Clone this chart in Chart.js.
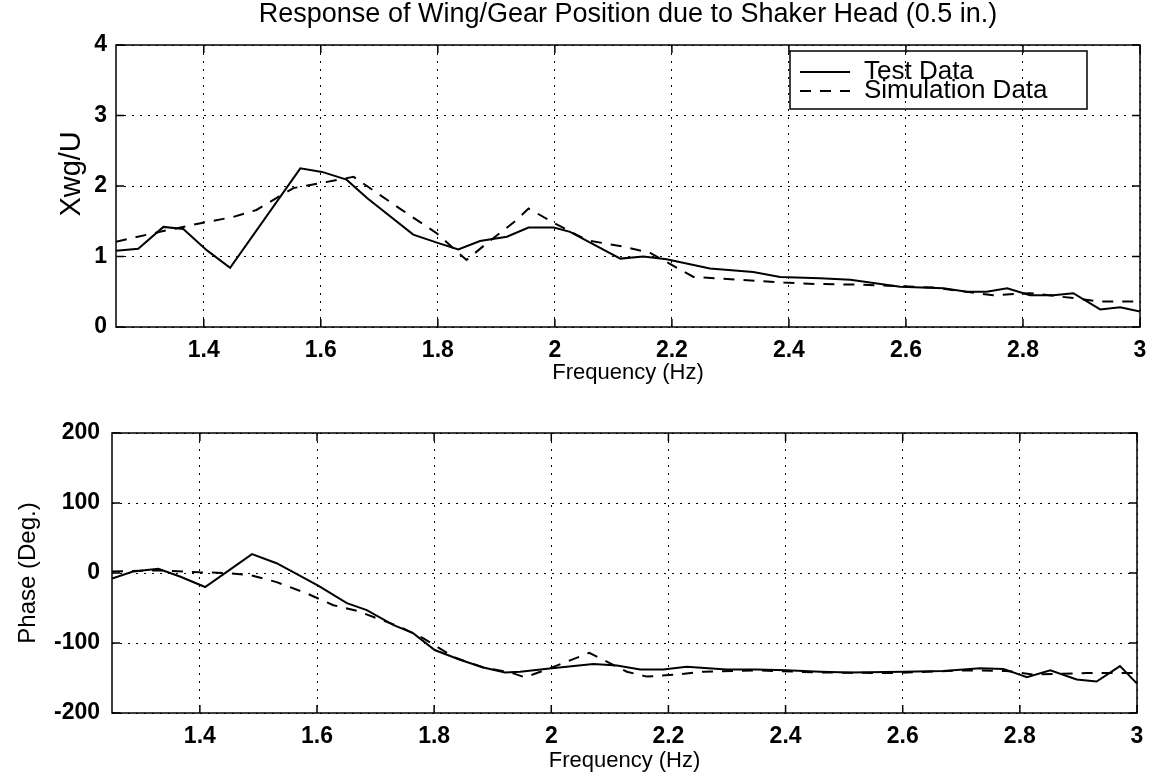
<!DOCTYPE html>
<html>
<head>
<meta charset="utf-8">
<script src="https://cdn.jsdelivr.net/npm/chart.js@4.4.0/dist/chart.umd.min.js"></script>
<style>
  body { margin: 0; background: #fff; }
  #wrap { position: relative; width: 1153px; height: 776px; }
  #magChart { position: absolute; left: 0; top: 0; }
  #phaseChart { position: absolute; left: 0; top: 390px; }
</style>
</head>
<body>
<div id="wrap">
  <canvas id="magChart" width="1153" height="390"></canvas>
  <canvas id="phaseChart" width="1153" height="386"></canvas>
</div>
<script>
// x ticks shared by both plots
var freqTicks = [1.4, 1.6, 1.8, 2.0, 2.2, 2.4, 2.6, 2.8, 3.0];
var magTicks = [0, 1, 2, 3, 4];
var phaseTicks = [-200, -100, 0, 100, 200];

// magnitude plot - test data
var testFreqMag = [1.25, 1.288, 1.331, 1.365, 1.405, 1.445, 1.565, 1.602, 1.644, 1.679, 1.758, 1.801, 1.835, 1.872, 1.918, 1.955, 1.998, 2.026, 2.112, 2.151, 2.191, 2.265, 2.339, 2.385, 2.453, 2.505, 2.590, 2.664, 2.704, 2.738, 2.773, 2.812, 2.852, 2.886, 2.932, 2.966, 3.0];
var testMag = [1.08, 1.11, 1.42, 1.39, 1.09, 0.84, 2.25, 2.20, 2.09, 1.83, 1.31, 1.19, 1.10, 1.22, 1.28, 1.41, 1.41, 1.35, 0.97, 1.00, 0.96, 0.83, 0.78, 0.71, 0.69, 0.67, 0.57, 0.55, 0.50, 0.50, 0.55, 0.45, 0.45, 0.48, 0.25, 0.28, 0.22];

// magnitude plot - simulation data
var simFreqMag = [1.25, 1.325, 1.399, 1.45, 1.49, 1.553, 1.599, 1.656, 1.735, 1.798, 1.849, 1.884, 1.935, 1.955, 2.0, 2.055, 2.117, 2.163, 2.237, 2.317, 2.391, 2.448, 2.522, 2.647, 2.749, 2.812, 2.886, 2.932, 3.0];
var simMag = [1.21, 1.35, 1.48, 1.56, 1.66, 1.97, 2.04, 2.13, 1.68, 1.33, 0.95, 1.19, 1.52, 1.68, 1.47, 1.23, 1.14, 1.05, 0.71, 0.67, 0.63, 0.61, 0.60, 0.56, 0.45, 0.48, 0.41, 0.36, 0.36];

// phase plot - test data
var testFreqPhase = [1.25, 1.286, 1.329, 1.366, 1.409, 1.489, 1.531, 1.602, 1.651, 1.685, 1.730, 1.764, 1.801, 1.844, 1.884, 1.921, 1.947, 2.001, 2.072, 2.112, 2.152, 2.191, 2.231, 2.299, 2.35, 2.402, 2.459, 2.51, 2.601, 2.669, 2.732, 2.772, 2.812, 2.852, 2.897, 2.931, 2.971, 3.0];
var testPhase = [-8, 2, 6, -5, -20, 27, 14, -18, -43, -53, -74, -86, -110, -124, -135, -142, -141, -136, -130, -132, -138, -138, -134, -138, -138, -139, -141, -142, -141, -140, -136, -137, -149, -139, -152, -155, -133, -158];

// phase plot - simulation data
var simFreqPhase = [1.25, 1.329, 1.40, 1.446, 1.486, 1.531, 1.582, 1.628, 1.668, 1.742, 1.781, 1.833, 1.884, 1.93, 1.955, 1.998, 2.065, 2.129, 2.163, 2.214, 2.26, 2.35, 2.453, 2.584, 2.709, 2.777, 2.823, 2.914, 3.0];
var simPhase = [2, 4, 1, 0, -3, -13, -29, -46, -54, -77, -93, -120, -135, -142, -149, -136, -114, -141, -148, -145, -141, -139, -142, -143, -139, -140, -145, -143, -143];

var FONT = '"Liberation Sans", Arial, Helvetica, sans-serif';
Chart.defaults.font.family = FONT;
Chart.defaults.color = '#000';

function toPoints(xs, ys) {
    return xs.map(function (x, i) { return { x: x, y: ys[i] }; });
}

// box round the plot area plus inward ticks on all four sides
var framePlugin = {
    id: 'frame',
    afterDatasetsDraw: function (chart) {
        var ctx = chart.ctx, a = chart.chartArea;
        var xs = chart.scales.x, ys = chart.scales.y;
        var len = 8;
        ctx.save();
        ctx.strokeStyle = '#000';
        ctx.lineWidth = 1.5;
        ctx.strokeRect(a.left, a.top, a.right - a.left, a.bottom - a.top);
        ctx.beginPath();
        xs.ticks.forEach(function (t) {
            var px = xs.getPixelForValue(t.value);
            ctx.moveTo(px, a.bottom); ctx.lineTo(px, a.bottom - len);
            ctx.moveTo(px, a.top); ctx.lineTo(px, a.top + len);
        });
        ys.ticks.forEach(function (t) {
            var py = ys.getPixelForValue(t.value);
            ctx.moveTo(a.left, py); ctx.lineTo(a.left + len, py);
            ctx.moveTo(a.right, py); ctx.lineTo(a.right - len, py);
        });
        ctx.stroke();
        ctx.restore();
    }
};

// title centred over the axes, like matlab does
var axesTitlePlugin = {
    id: 'axesTitle',
    afterDraw: function (chart, args, opts) {
        if (!opts.text) return;
        var ctx = chart.ctx, a = chart.chartArea;
        ctx.save();
        ctx.font = '27px ' + FONT;
        ctx.fillStyle = '#000';
        ctx.textAlign = 'center';
        ctx.textBaseline = 'middle';
        ctx.fillText(opts.text, (a.left + a.right) / 2, 15);
        ctx.restore();
    }
};

// MATLAB style legend box in the upper right corner
var boxLegendPlugin = {
    id: 'boxLegend',
    afterDatasetsDraw: function (chart, args, opts) {
        if (!opts.show) return;
        var ctx = chart.ctx, a = chart.chartArea;
        var x0 = 790, y0 = a.top + 6, w = 297, h = 58;
        ctx.save();
        ctx.strokeStyle = '#000';
        ctx.lineWidth = 1.5;
        ctx.strokeRect(x0, y0, w, h);
        ctx.font = '26px ' + FONT;
        ctx.fillStyle = '#000';
        ctx.textBaseline = 'middle';
        chart.data.datasets.forEach(function (ds, i) {
            var y = y0 + 21 + i * 19;
            ctx.beginPath();
            ctx.lineWidth = ds.borderWidth;
            ctx.setLineDash(ds.borderDash || []);
            ctx.moveTo(x0 + 10, y);
            ctx.lineTo(x0 + 60, y);
            ctx.stroke();
            ctx.setLineDash([]);
            ctx.fillText(ds.label, x0 + 74, y);
        });
        ctx.restore();
    }
};

function makeChart(id, cfg) {
    var ctx = document.getElementById(id).getContext('2d');
    return new Chart(ctx, {
        type: 'line',
        data: {
            datasets: [{
                label: 'Test Data',
                data: cfg.test,
                borderColor: '#000',
                borderWidth: 2,
                pointRadius: 0,
                tension: 0
            }, {
                label: 'Simulation Data',
                data: cfg.sim,
                borderColor: '#000',
                borderWidth: 2,
                borderDash: [11, 9],
                pointRadius: 0,
                tension: 0
            }]
        },
        options: {
            responsive: false,
            animation: false,
            events: [],
            layout: { padding: cfg.padding },
            plugins: {
                legend: { display: false },
                tooltip: { enabled: false },
                title: { display: false },
                axesTitle: { text: cfg.title },
                boxLegend: { show: cfg.legend }
            },
            scales: {
                x: {
                    type: 'linear',
                    min: 1.25,
                    max: 3,
                    afterBuildTicks: function (s) { s.ticks = freqTicks.map(function (v) { return { value: v }; }); },
                    afterFit: function (s) { s.height = 63; s.paddingLeft = 0; s.paddingRight = 0; },
                    ticks: {
                        padding: 10,
                        maxRotation: 0,
                        font: { size: 23, weight: 'bold' },
                        callback: function (v) { return String(Math.round(v * 10) / 10); }
                    },
                    grid: { color: '#000', lineWidth: 1, drawTicks: false },
                    border: { display: false, dash: [2, 6] },
                    title: {
                        display: true,
                        text: 'Frequency (Hz)',
                        font: { size: 22 },
                        padding: { top: 0, bottom: cfg.xTitlePad }
                    }
                },
                y: {
                    min: cfg.yMin,
                    max: cfg.yMax,
                    afterBuildTicks: function (s) { s.ticks = cfg.yTicks.map(function (v) { return { value: v }; }); },
                    afterFit: function (s) { s.width = cfg.yWidth; },
                    ticks: {
                        padding: cfg.yTickPad,
                        font: { size: 23, weight: 'bold' }
                    },
                    grid: { color: '#000', lineWidth: 1, drawTicks: false },
                    border: { display: false, dash: [2, 6] },
                    title: {
                        display: true,
                        text: cfg.yTitle,
                        font: { size: cfg.yTitleSize },
                        padding: { top: cfg.yTitlePad, bottom: 0 }
                    }
                }
            }
        },
        plugins: [framePlugin, boxLegendPlugin, axesTitlePlugin]
    });
}

makeChart('magChart', {
    test: toPoints(testFreqMag, testMag),
    sim: toPoints(simFreqMag, simMag),
    yMin: 0, yMax: 4, yTicks: magTicks,
    yTitle: '   Xwg/U', yTitleSize: 29, yWidth: 116, yTickPad: 9, yTitlePad: 55,
    xTitlePad: 4,
    padding: { top: 45, right: 13, left: 0, bottom: 0 },
    legend: true,
    title: 'Response of Wing/Gear Position due to Shaker Head (0.5 in.)'
});

makeChart('phaseChart', {
    test: toPoints(testFreqPhase, testPhase),
    sim: toPoints(simFreqPhase, simPhase),
    yMin: -200, yMax: 200, yTicks: phaseTicks,
    yTitle: 'Phase (Deg.)', yTitleSize: 24, yWidth: 112, yTickPad: 12, yTitlePad: 14,
    xTitlePad: 2,
    padding: { top: 43, right: 16, left: 0, bottom: 0 },
    legend: false,
    title: ''
});
</script>
</body>
</html>
